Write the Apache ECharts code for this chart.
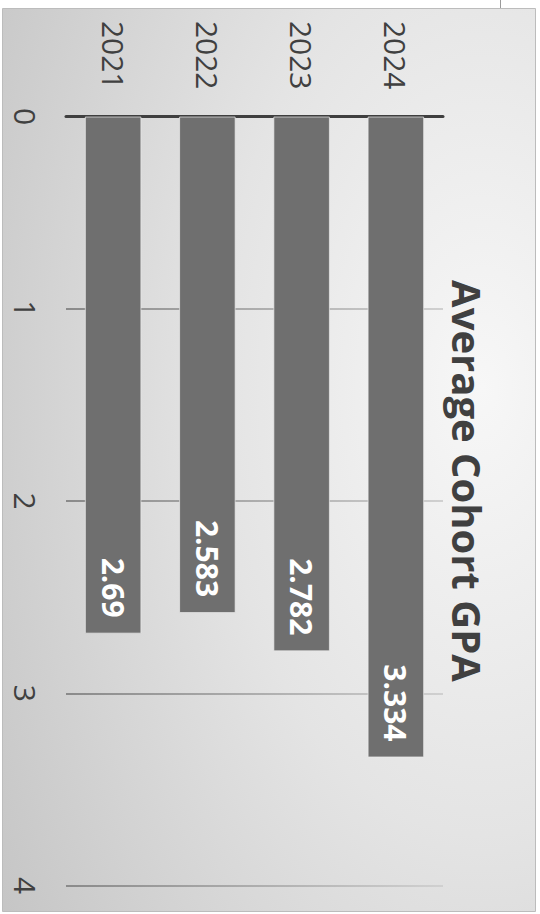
<!DOCTYPE html>
<html>
<head>
<meta charset="utf-8">
<title>Average Cohort GPA</title>
<script src="https://cdn.jsdelivr.net/npm/echarts@6/dist/echarts.min.js"></script>
<style>
  html, body { margin: 0; padding: 0; background: #ffffff; }
  #chart { width: 540px; height: 914px; }
</style>
</head>
<body>
<div id="chart"></div>
<script>
// Cohort years and their average GPA
const categories = ['2021', '2022', '2023', '2024'];
const gpaValues = [2.69, 2.583, 2.782, 3.334];
const titleText = 'Average Cohort GPA';
// Value axis range and step (tick labels 0..4)
const gpaMin = 0;
const gpaMax = 4;
const gpaStep = 1;

const FONT = '"Open Sans", "Liberation Sans", sans-serif';
const chart = echarts.init(document.getElementById('chart'), null, { renderer: 'svg' });

// grid lines fade from left to right (global coordinates across the plot width)
const gridLineColor = new echarts.graphic.LinearGradient(66, 0, 443, 0, [
  { offset: 0, color: '#8a8a8a' },
  { offset: 1, color: '#d0d0d0' }
], true);

chart.setOption({
  animation: false,
  backgroundColor: '#ffffff',
  graphic: [
    {
      // chart panel with soft gray shading
      type: 'rect',
      z: -10,
      silent: true,
      shape: { x: 2.5, y: 8.5, width: 533, height: 903 },
      style: {
        fill: new echarts.graphic.RadialGradient(0.9, 0.42, 1.1, [
          { offset: 0, color: '#f7f7f7' },
          { offset: 0.45, color: '#e4e4e4' },
          { offset: 1, color: '#c4c4c4' }
        ]),
        stroke: '#bcbcbc',
        lineWidth: 1
      }
    },
    {
      type: 'line',
      z: -10,
      silent: true,
      shape: { x1: 500.5, y1: 0, x2: 500.5, y2: 8 },
      style: { stroke: '#9a9a9a', lineWidth: 1 }
    },
    {
      // vertical title along the right side
      type: 'text',
      z: 10,
      x: 467,
      y: 481,
      rotation: -Math.PI / 2,
      style: {
        text: titleText,
        fill: '#404040',
        font: 'bold 40px ' + FONT,
        align: 'center',
        verticalAlign: 'middle'
      }
    }
  ],
  grid: {
    left: 66,
    right: 97,
    top: 116.5,
    bottom: 28.5,
    containLabel: false
  },
  xAxis: {
    type: 'category',
    data: categories,
    position: 'top',
    axisLine: { show: true, lineStyle: { color: '#3f3f3f', width: 3 } },
    axisTick: { show: false },
    axisLabel: {
      rotate: -90,
      margin: 27,
      align: 'right',
      verticalAlign: 'middle',
      fontSize: 30,
      fontFamily: FONT,
      color: '#404040'
    }
  },
  yAxis: {
    type: 'value',
    inverse: true,
    min: gpaMin,
    max: gpaMax,
    interval: gpaStep,
    axisLine: { show: false },
    axisTick: { show: false },
    splitLine: { show: true, lineStyle: { color: gridLineColor, width: 2 } },
    axisLabel: {
      rotate: -90,
      margin: 41,
      align: 'center',
      verticalAlign: 'middle',
      fontSize: 30,
      fontFamily: FONT,
      color: '#404040'
    }
  },
  series: [
    {
      type: 'bar',
      data: gpaValues,
      barCategoryGap: '40%',
      itemStyle: {
        color: '#6f6f6f',
        borderColor: 'rgba(235,235,235,0.7)',
        borderWidth: 1
      },
      label: {
        show: true,
        position: 'insideBottom',
        distance: 16,
        rotate: -90,
        align: 'right',
        verticalAlign: 'middle',
        color: '#ffffff',
        fontWeight: 'bold',
        fontSize: 30,
        fontFamily: FONT,
        formatter: (p) => String(p.value)
      }
    }
  ]
});
</script>
</body>
</html>
